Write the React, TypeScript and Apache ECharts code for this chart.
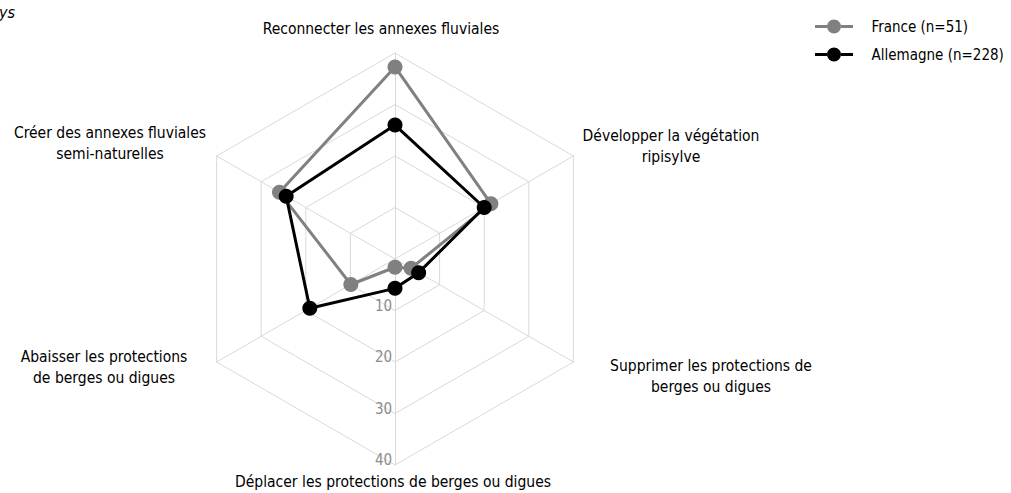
import React, { useEffect, useRef } from 'react';
import * as echarts from 'echarts';

// ---- data ----
// ECharts places radar indicators counter-clockwise starting from the top.
const indicatorNames = [
  'Reconnecter les annexes fluviales',
  'Créer des annexes fluviales\nsemi-naturelles',
  'Abaisser les protections\nde berges ou digues',
  'Déplacer les protections de berges ou digues',
  'Supprimer les protections de\nberges ou digues',
  'Développer la végétation\nripisylve',
];
const axisMin = 0;
const axisMax = 40;
const tickLabels = ['10', '20', '30', '40'];
const seriesNames = ['France (n=51)', 'Allemagne (n=228)'];
const franceValues = [37.3, 25.9, 9.9, 1.6, 3.6, 21.5];
const allemagneValues = [26.0, 24.4, 19.1, 5.7, 5.3, 20.0];
const cornerText = 'ys';

// ---- layout / style ----
const FONT = "'DejaVu Sans Condensed', 'DejaVu Sans', sans-serif";
const nameLayout: [number, number][] = [
  [381, 29],
  [110, 143.5],
  [104, 367.5],
  [393, 482],
  [711, 376.5],
  [671, 146.5],
];
const labelAxisIndex = 3;
const seriesColors = ['#808080', '#000000'];
const gridColor = '#d9d9d9';
const legendIcon =
  'path://M0,5.5 H12 V8.5 H0 Z M26,5.5 H38 V8.5 H26 Z M12,7 A7,7 0 1 1 26,7 A7,7 0 1 1 12,7 Z';

export default function App() {
  const ref = useRef<HTMLDivElement>(null);
  useEffect(() => {
    if (!ref.current) return;
    const chart = echarts.init(ref.current, undefined, { renderer: 'svg' });
    const option = {
      animation: false,
      backgroundColor: '#ffffff',
      legend: {
        orient: 'vertical',
        left: 810,
        top: 14,
        itemWidth: 39,
        itemHeight: 14,
        itemGap: 13,
        icon: legendIcon,
        data: seriesNames,
        textStyle: { fontSize: 15, fontFamily: FONT, color: '#000', padding: [0, 0, 0, 13] },
      },
      radar: {
        center: [395, 259],
        radius: 206,
        startAngle: 90,
        splitNumber: 4,
        shape: 'polygon',
        indicator: indicatorNames.map((name, i) => ({
          name,
          min: axisMin,
          max: axisMax,
          ...(i === labelAxisIndex ? { axisLabel: { show: true } } : {}),
        })),
        axisName: { show: false },
        axisLine: { lineStyle: { color: gridColor, width: 1 } },
        splitLine: { lineStyle: { color: gridColor, width: 1 } },
        splitArea: { show: false },
        axisTick: { show: false },
        axisLabel: {
          show: false,
          color: '#8c8c8c',
          fontSize: 15,
          fontFamily: FONT,
          margin: -20,
          verticalAlign: 'bottom',
          lineHeight: 10,
          formatter: (v: number) => (tickLabels.includes(String(v)) ? String(v) : ''),
        },
      },
      series: [
        {
          type: 'radar',
          symbol: 'circle',
          symbolSize: 15,
          data: [
            {
              name: seriesNames[0],
              value: franceValues,
              itemStyle: { color: seriesColors[0] },
              lineStyle: { color: seriesColors[0], width: 3 },
            },
            {
              name: seriesNames[1],
              value: allemagneValues,
              itemStyle: { color: seriesColors[1] },
              lineStyle: { color: seriesColors[1], width: 3 },
            },
          ],
        },
      ],
      graphic: [
        ...indicatorNames.map((name, i) => ({
          type: 'text',
          x: nameLayout[i][0],
          y: nameLayout[i][1],
          silent: true,
          style: {
            text: name,
            align: 'center',
            verticalAlign: 'middle',
            fontSize: 15.5,
            fontFamily: FONT,
            lineHeight: 21,
            fill: '#000',
          },
        })),
        {
          type: 'text',
          x: -1,
          y: 12,
          silent: true,
          style: {
            text: cornerText,
            align: 'left',
            verticalAlign: 'middle',
            fontSize: 16,
            fontStyle: 'italic',
            fontFamily: FONT,
            fill: '#000',
          },
        },
      ],
    };
    chart.setOption(option as any);
    return () => chart.dispose();
  }, []);
  return (
    <div
      ref={ref}
      style={{ position: 'absolute', left: 0, top: 0, width: 1011, height: 493 }}
    />
  );
}
